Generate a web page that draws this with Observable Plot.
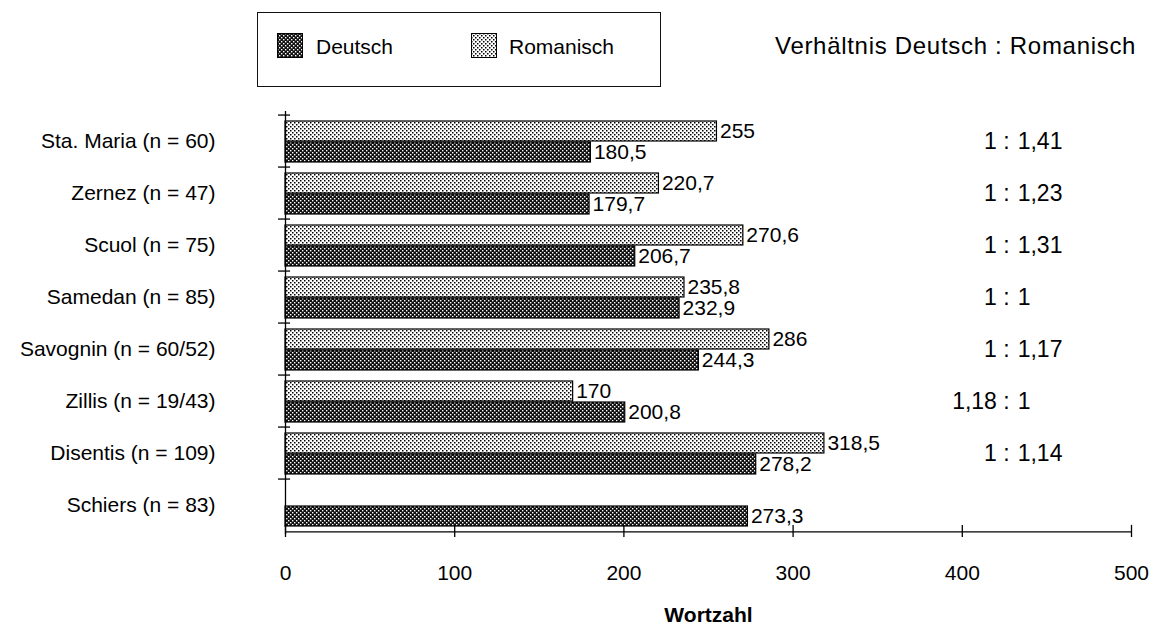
<!DOCTYPE html>
<html>
<head>
<meta charset="utf-8">
<script src="https://cdn.jsdelivr.net/npm/d3@7"></script>
<script src="https://cdn.jsdelivr.net/npm/@observablehq/plot@0.6"></script>
<style>
  html, body { margin: 0; padding: 0; background: #fff; }
  body { font-family: "Liberation Sans", Arial, sans-serif; color: #000; }
  #wrap { position: relative; width: 1153px; height: 630px; overflow: hidden; }
  #chart { position: absolute; left: 0; top: 0; }
  #legend { position: absolute; left: 257px; top: 12px; width: 404px; height: 75px;
            border: 1.5px solid #111; box-sizing: border-box; background: #fff; }
  .sw { position: absolute; top: 20px; width: 26px; height: 25px; }
  .lt { position: absolute; top: 22px; font-size: 21px; line-height: 24px; }
  #header { position: absolute; left: 775px; top: 34px; font-size: 24px; line-height: 24px;
            letter-spacing: 0.7px; white-space: nowrap; }
</style>
</head>
<body>
<svg width="0" height="0" style="position:absolute">
  <defs>
    <pattern id="lightDots" width="4" height="4" patternUnits="userSpaceOnUse">
      <rect width="4" height="4" fill="#fff"/>
      <rect x="0" y="0" width="1.5" height="1.5" fill="#000"/>
      <rect x="2" y="2" width="1.5" height="1.5" fill="#000"/>
    </pattern>
    <pattern id="darkDots" width="4" height="4" patternUnits="userSpaceOnUse">
      <rect width="4" height="4" fill="#111"/>
      <rect x="0" y="0" width="1.4" height="1.4" fill="#fff"/>
      <rect x="2" y="2" width="1.4" height="1.4" fill="#fff"/>
    </pattern>
  </defs>
</svg>
<div id="wrap">
  <div id="chart"></div>
  <div id="legend">
    <svg class="sw" style="left:19px"><rect x="0.5" y="0.5" width="25" height="24" fill="url(#darkDots)" stroke="#000"/></svg>
    <div class="lt" style="left:58px">Deutsch</div>
    <svg class="sw" style="left:213px"><rect x="0.5" y="0.5" width="25" height="24" fill="url(#lightDots)" stroke="#000"/></svg>
    <div class="lt" style="left:251px">Romanisch</div>
  </div>
  <div id="header">Verhältnis Deutsch : Romanisch</div>
</div>
<script>
const categories = ["Sta. Maria (n = 60)", "Zernez (n = 47)", "Scuol (n = 75)", "Samedan (n = 85)",
                    "Savognin (n = 60/52)", "Zillis (n = 19/43)", "Disentis (n = 109)", "Schiers (n = 83)"];
const deutsch   = [180.5, 179.7, 206.7, 232.9, 244.3, 200.8, 278.2, 273.3];
const romanisch = [255, 220.7, 270.6, 235.8, 286, 170, 318.5, null];
const ratioLeft  = ["1", "1", "1", "1", "1", "1,18", "1", null];
const ratioRight = ["1,41", "1,23", "1,31", "1", "1,17", "1", "1,14", null];
const xTicks = [0, 100, 200, 300, 400, 500];
const ratioX = 428;

const fmt = v => String(v).replace(".", ",");
const deu = categories.map((c, i) => ({cat: c, value: deutsch[i]}));
const rom = categories.map((c, i) => ({cat: c, value: romanisch[i]})).filter(d => d.value != null);
const ratios = categories.map((c, i) => ({cat: c, left: ratioLeft[i], right: ratioRight[i]})).filter(d => d.left != null);

const H = 630, mTop = 111, mBottom = 96;
const half = (H - mTop - mBottom) / categories.length / 2;

const plot = Plot.plot({
  width: 1153,
  height: H,
  marginTop: mTop,
  marginBottom: mBottom,
  marginLeft: 285,
  marginRight: 22,
  style: {fontFamily: "Liberation Sans, Arial, sans-serif", fontSize: "21px", color: "#000", background: "transparent"},
  x: {domain: [0, 500]},
  y: {domain: categories, padding: 0},
  marks: [
    Plot.barX(rom, {x: "value", y: "cat", insetTop: 6, insetBottom: 26, fill: "url(#lightDots)", stroke: "#000", strokeWidth: 1.2}),
    Plot.barX(deu, {x: "value", y: "cat", insetTop: 27, insetBottom: 5, fill: "url(#darkDots)", stroke: "#000", strokeWidth: 1.2}),
    Plot.text(rom, {x: "value", y: "cat", text: d => fmt(d.value), textAnchor: "start", dx: 3, dy: -10, fontSize: 21}),
    Plot.text(deu, {x: "value", y: "cat", text: d => fmt(d.value), textAnchor: "start", dx: 3, dy: 11, fontSize: 21}),
    // y axis line and category boundary ticks
    Plot.ruleX([0], {stroke: "#000", strokeWidth: 1.3}),
    Plot.ruleY(categories, {y: d => d, dy: -half, x1: -4.1, x2: 3, stroke: "#000", strokeWidth: 1.3}),
    Plot.ruleY([categories[categories.length - 1]], {y: d => d, dy: half, stroke: "#000", strokeWidth: 1.3}),
    Plot.tickX(xTicks, {x: d => d, y: () => categories[categories.length - 1], insetTop: 2 * half - 7, insetBottom: -6, stroke: "#000", strokeWidth: 1.3}),
    Plot.axisX({ticks: xTicks, tickSize: 0, tickPadding: 31, fontSize: 21, tickFormat: d => String(d), label: null}),
    Plot.axisY({tickSize: 0, tickPadding: 70, fontSize: 21, label: null}),
    Plot.text(["Wortzahl"], {frameAnchor: "bottom", text: d => d, dy: 87, fontWeight: "bold", fontSize: 21}),
    // ratio column
    Plot.text(ratios, {x: () => ratioX, y: "cat", text: d => d.left + " :", textAnchor: "end", fontSize: 23}),
    Plot.text(ratios, {x: () => ratioX, y: "cat", text: "right", textAnchor: "start", dx: 8, fontSize: 23})
  ]
});
document.getElementById("chart").appendChild(plot);
</script>
</body>
</html>
